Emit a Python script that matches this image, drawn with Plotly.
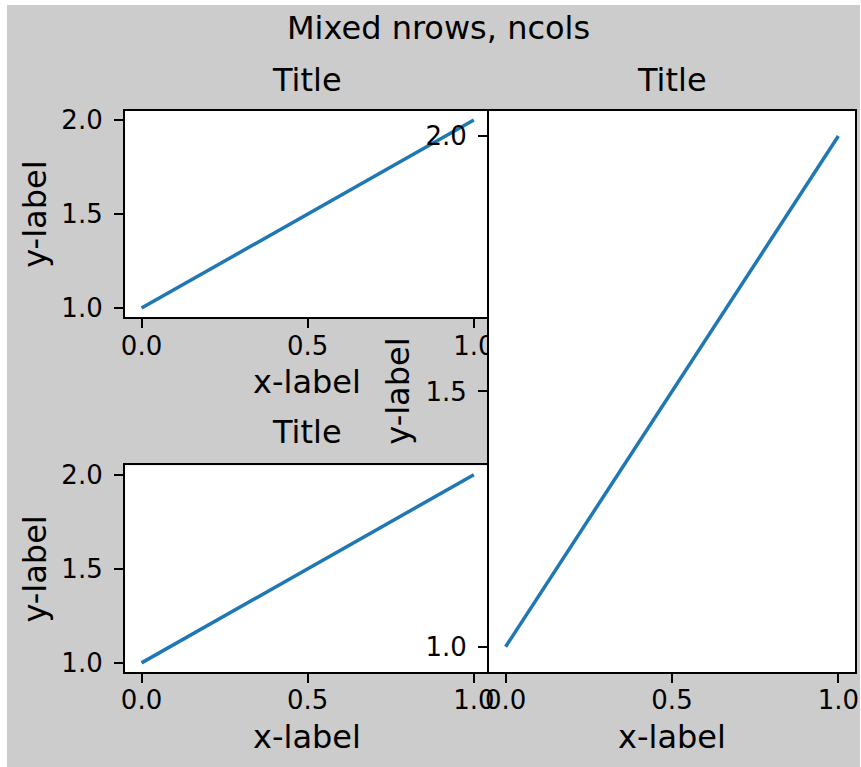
import plotly.graph_objects as go

# ---- data ----
x_vals = [0, 1]
y_vals = [1, 2]
x_ticks = [0.0, 0.5, 1.0]
x_ticktext = ["0.0", "0.5", "1.0"]
y_ticks = [1.0, 1.5, 2.0]
y_ticktext = ["1.0", "1.5", "2.0"]
y_ticks_right = [1.0, 1.5, 2.0]
y_ticktext_right = ["1.0", "1.5", "2.0"]
suptitle = "Mixed nrows, ncols"
sub_title = "Title"
x_label = "x-label"
y_label = "y-label"

# grey figure area in the reference picture (pixels)
RX0, RX1, RY0, RY1 = 7, 860, 5, 767
W, H = RX1 - RX0, RY1 - RY0
FONT = "DejaVu Sans"
BLUE = "#1f77b4"


def px_x(v):  # reference pixel -> paper fraction
    return (v - RX0) / (RX1 - RX0)


def px_y(v):
    return 1 - (v - RY0) / (RY1 - RY0)


fig = go.Figure()
for ax in ["", "2", "3"]:
    fig.add_trace(go.Scatter(x=x_vals, y=y_vals, mode="lines",
                             line=dict(color=BLUE, width=3.5),
                             xaxis="x" + ax, yaxis="y" + ax,
                             showlegend=False, hoverinfo="skip"))

axis_common = dict(showline=True, mirror=True, linecolor="black", linewidth=2,
                   ticks="outside", ticklen=9, tickwidth=2, tickcolor="black",
                   showgrid=False, zeroline=False,
                   tickfont=dict(family=FONT, size=26, color="black"))

# axes boxes in reference pixels
TL = dict(x0=122, x1=491, y0=107, y1=317)
BL = dict(x0=122, x1=491, y0=467, y1=677)
RT = dict(x0=489.5, x1=859, y0=107, y1=677)


def dom(d):
    return [px_x(d["x0"]), px_x(d["x1"])], [px_y(d["y1"]), px_y(d["y0"])]


layout = dict(width=W, height=H, margin=dict(l=0, r=0, t=0, b=0),
              paper_bgcolor="#cccccc", plot_bgcolor="white",
              showlegend=False)
for ax, d, yt, ytt in [("", TL, y_ticks, y_ticktext),
                       ("2", BL, y_ticks, y_ticktext),
                       ("3", RT, y_ticks_right, y_ticktext_right)]:
    xd, yd = dom(d)
    layout["xaxis" + ax] = dict(axis_common, domain=xd, anchor="y" + ax,
                                range=[-0.05, 1.05], tickvals=x_ticks,
                                ticktext=x_ticktext, ticklabelstandoff=-5)
    layout["yaxis" + ax] = dict(axis_common, domain=yd, anchor="x" + ax,
                                range=[0.95, 2.05], tickvals=yt,
                                ticktext=ytt, ticklabelstandoff=6)
fig.update_layout(**layout)

anns = []
TS = 32


def text_h(txt, cx, ink_cy):
    anns.append(dict(text=txt, x=px_x(cx), y=px_y(ink_cy - 2.5), xref="paper", yref="paper",
                     xanchor="center", yanchor="middle", showarrow=False,
                     font=dict(family=FONT, size=TS, color="black")))


def text_v(txt, ink_cx, cy):
    anns.append(dict(text=txt, x=px_x(ink_cx - 6), y=px_y(cy), xref="paper", yref="paper",
                     xanchor="center", yanchor="middle", showarrow=False,
                     textangle=-90,
                     font=dict(family=FONT, size=TS, color="black")))


text_h(suptitle, 439, 25.5)
text_h(sub_title, 306, 78.5)
text_h(sub_title, 674.5, 78.5)
text_h(sub_title, 306, 436)
text_h(x_label, 306, 385)
text_h(x_label, 306, 745)
text_h(x_label, 674.5, 745)
text_v(y_label, 37, 212)
text_v(y_label, 37, 572)
text_v(y_label, 404, 392)
fig.update_layout(annotations=anns)

fig.write_html(
    "out.html",
    config={"displayModeBar": False},
    post_script="document.body.style.margin='5px 0 0 7px';"
                "document.documentElement.style.overflow='hidden';",
)
